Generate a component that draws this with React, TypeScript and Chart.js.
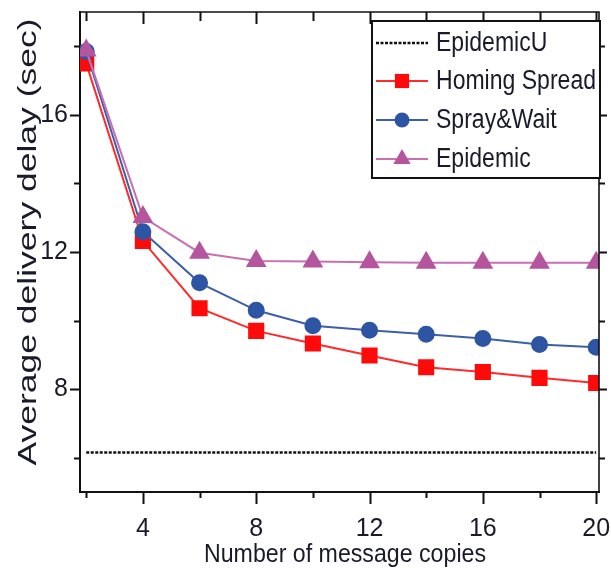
import React, { useEffect, useRef } from 'react';
import { Chart, registerables } from 'chart.js';

Chart.register(...registerables);

// ---- data ----
const copies = [2, 4, 6, 8, 10, 12, 14, 16, 18, 20];
const epidemicU = [6.15, 6.15, 6.15, 6.15, 6.15, 6.15, 6.15, 6.15, 6.15, 6.15];
const homingSpread = [17.5, 12.32, 10.36, 9.7, 9.33, 8.98, 8.64, 8.5, 8.33, 8.18];
const sprayWait = [17.85, 12.59, 11.1, 10.3, 9.85, 9.72, 9.6, 9.48, 9.3, 9.22];
const epidemic = [17.88, 13.02, 11.98, 11.74, 11.72, 11.7, 11.69, 11.69, 11.69, 11.69];

const xTicks = [2, 4, 6, 8, 10, 12, 14, 16, 18, 20];
const xLabels = [4, 8, 12, 16, 20];
const yTicks = [6, 8, 10, 12, 14, 16, 18];
const yLabels = [8, 12, 16];

const seriesNames = ['EpidemicU', 'Homing Spread', 'Spray&Wait', 'Epidemic'];
const xTitle = 'Number of message copies';
const yTitle = 'Average delivery delay (sec)';

const SANS = "'Liberation Sans', Arial, sans-serif";

const toPts = (vals: number[]) => copies.map((c, i) => ({ x: c, y: vals[i] }));

function drawMarker(ctx: CanvasRenderingContext2D, style: string, r: number, x: number, y: number) {
  ctx.beginPath();
  if (style === 'rect') {
    const s = Math.SQRT1_2 * r;
    ctx.rect(x - s, y - s, 2 * s, 2 * s);
  } else if (style === 'circle') {
    ctx.arc(x, y, r, 0, Math.PI * 2);
  } else if (style === 'triangle') {
    let rad = 0;
    ctx.moveTo(x + Math.sin(rad) * r, y - Math.cos(rad) * r);
    rad += (2 * Math.PI) / 3;
    ctx.lineTo(x + Math.sin(rad) * r, y - Math.cos(rad) * r);
    rad += (2 * Math.PI) / 3;
    ctx.lineTo(x + Math.sin(rad) * r, y - Math.cos(rad) * r);
    ctx.closePath();
  }
  ctx.fill();
}

const decorPlugin = {
  id: 'decor',
  afterDraw(chart: any) {
    const { ctx, chartArea: a, scales } = chart;
    const xs = scales.x;
    const ys = scales.y;
    ctx.save();
    ctx.strokeStyle = '#111';
    ctx.lineWidth = 1.6;
    ctx.beginPath();
    ctx.moveTo(a.left, a.top);
    ctx.lineTo(a.right, a.top);
    ctx.lineTo(a.right, a.bottom);
    ctx.stroke();

    ctx.lineWidth = 2;
    ctx.beginPath();
    xTicks.forEach((v) => {
      const px = Math.round(xs.getPixelForValue(v)) + 0.5;
      const major = xLabels.includes(v);
      ctx.moveTo(px, a.bottom);
      ctx.lineTo(px, a.bottom + (major ? 12 : 6));
      ctx.moveTo(px, a.top);
      ctx.lineTo(px, a.top + (major ? 12 : 9));
    });
    yTicks.forEach((v) => {
      const py = Math.round(ys.getPixelForValue(v)) + 0.5;
      const major = yLabels.includes(v);
      ctx.moveTo(a.left, py);
      ctx.lineTo(a.left - (major ? 10 : 6), py);
      ctx.moveTo(a.right, py);
      ctx.lineTo(a.right + (major ? 8 : 6), py);
    });
    ctx.stroke();

    // axis titles
    ctx.fillStyle = '#1a1a2a';
    ctx.font = `26px ${SANS}`;
    ctx.textAlign = 'center';
    ctx.textBaseline = 'middle';
    const wX = ctx.measureText(xTitle).width;
    ctx.save();
    ctx.translate(345, 555);
    ctx.scale(282 / wX, 1);
    ctx.fillText(xTitle, 0, 0);
    ctx.restore();

    ctx.font = `25px ${SANS}`;
    const wY = ctx.measureText(yTitle).width;
    ctx.save();
    ctx.translate(29, 242);
    ctx.rotate(-Math.PI / 2);
    ctx.scale(447 / wY, 1);
    ctx.fillText(yTitle, 0, 0);
    ctx.restore();

    // legend
    const bx = 372, by = 21, bw = 228, bh = 157;
    ctx.fillStyle = '#fff';
    ctx.fillRect(bx, by, bw, bh);
    ctx.strokeStyle = '#111';
    ctx.lineWidth = 2;
    ctx.strokeRect(bx, by, bw, bh);
    const rows = [43, 81, 120, 159];
    ctx.font = `27px ${SANS}`;
    const refW = ctx.measureText('Homing Spread').width;
    const sx = 160 / refW;
    chart.data.datasets.forEach((ds: any, i: number) => {
      const y = rows[i];
      ctx.save();
      ctx.strokeStyle = ds.borderColor;
      ctx.lineWidth = ds.borderWidth;
      ctx.setLineDash(ds.borderDash || []);
      ctx.beginPath();
      ctx.moveTo(376, y);
      ctx.lineTo(428, y);
      ctx.stroke();
      ctx.restore();
      if (ds.pointRadius > 0) {
        ctx.save();
        ctx.fillStyle = ds.pointBackgroundColor;
        drawMarker(ctx, ds.pointStyle, ds.pointRadius, 402, y);
        ctx.restore();
      }
      ctx.save();
      ctx.fillStyle = '#1a1a2a';
      ctx.textAlign = 'left';
      ctx.textBaseline = 'middle';
      ctx.font = `27px ${SANS}`;
      ctx.translate(436, y + 1);
      ctx.scale(sx, 1);
      ctx.fillText(seriesNames[i], 0, 0);
      ctx.restore();
    });
    ctx.restore();
  },
};

export default function App() {
  const ref = useRef<HTMLCanvasElement | null>(null);
  useEffect(() => {
    if (!ref.current) return;
    const chart = new Chart(ref.current, {
      type: 'line',
      data: {
        datasets: [
          {
            label: seriesNames[0],
            data: toPts(epidemicU),
            borderColor: '#111',
            borderWidth: 2.5,
            borderDash: [3, 1.5],
            pointRadius: 0,
            order: 3,
          },
          {
            label: seriesNames[1],
            data: toPts(homingSpread),
            borderColor: '#ff2a2a',
            borderWidth: 2,
            pointStyle: 'rect',
            pointRadius: 10,
            pointBackgroundColor: '#ff0a0a',
            pointBorderColor: '#ff0a0a',
            order: 2,
          },
          {
            label: seriesNames[2],
            data: toPts(sprayWait),
            borderColor: '#3d5fa6',
            borderWidth: 2,
            pointStyle: 'circle',
            pointRadius: 7.5,
            pointBackgroundColor: '#2d55a3',
            pointBorderColor: '#2d55a3',
            order: 1,
          },
          {
            label: seriesNames[3],
            data: toPts(epidemic),
            borderColor: '#c870b2',
            borderWidth: 2,
            pointStyle: 'triangle',
            pointRadius: 10,
            pointBackgroundColor: '#b4559e',
            pointBorderColor: '#b4559e',
            order: 0,
          },
        ],
      } as any,
      options: {
        animation: false,
        responsive: false,
        layout: { padding: { left: 0, right: 9, top: 10, bottom: 0 } },
        plugins: { legend: { display: false }, tooltip: { enabled: false } },
        elements: { line: { tension: 0 } },
        scales: {
          x: {
            type: 'linear',
            min: 1.78,
            max: 20.1,
            afterBuildTicks: (s: any) => {
              s.ticks = xTicks.map((v) => ({ value: v }));
            },
            afterFit: (s: any) => {
              s.height = 81;
              s.paddingLeft = 0;
              s.paddingRight = 0;
            },
            grid: { display: true, drawOnChartArea: false, drawTicks: false },
            border: { display: true, color: '#111', width: 2 },
            ticks: {
              autoSkip: false,
              maxRotation: 0,
              padding: 22,
              color: '#1a1a2a',
              font: { family: SANS, size: 25 },
              callback: (v: any) => (xLabels.includes(Number(v)) ? String(v) : ''),
            },
          },
          y: {
            type: 'linear',
            min: 5,
            max: 19,
            afterBuildTicks: (s: any) => {
              s.ticks = yTicks.map((v) => ({ value: v }));
            },
            afterFit: (s: any) => {
              s.width = 80;
              s.paddingTop = 0;
              s.paddingBottom = 0;
            },
            grid: { display: true, drawOnChartArea: false, drawTicks: false },
            border: { display: true, color: '#111', width: 2 },
            ticks: {
              autoSkip: false,
              padding: 12,
              color: '#1a1a2a',
              font: { family: SANS, size: 25 },
              callback: (v: any) => (yLabels.includes(Number(v)) ? String(v) : ''),
            },
          },
        },
      } as any,
      plugins: [decorPlugin],
    });
    return () => chart.destroy();
  }, []);
  return (
    <div style={{ position: 'absolute', left: 0, top: 0, width: 611, height: 573, background: '#fff' }}>
      <canvas ref={ref} width={611} height={573} style={{ width: 611, height: 573 }} />
    </div>
  );
}
